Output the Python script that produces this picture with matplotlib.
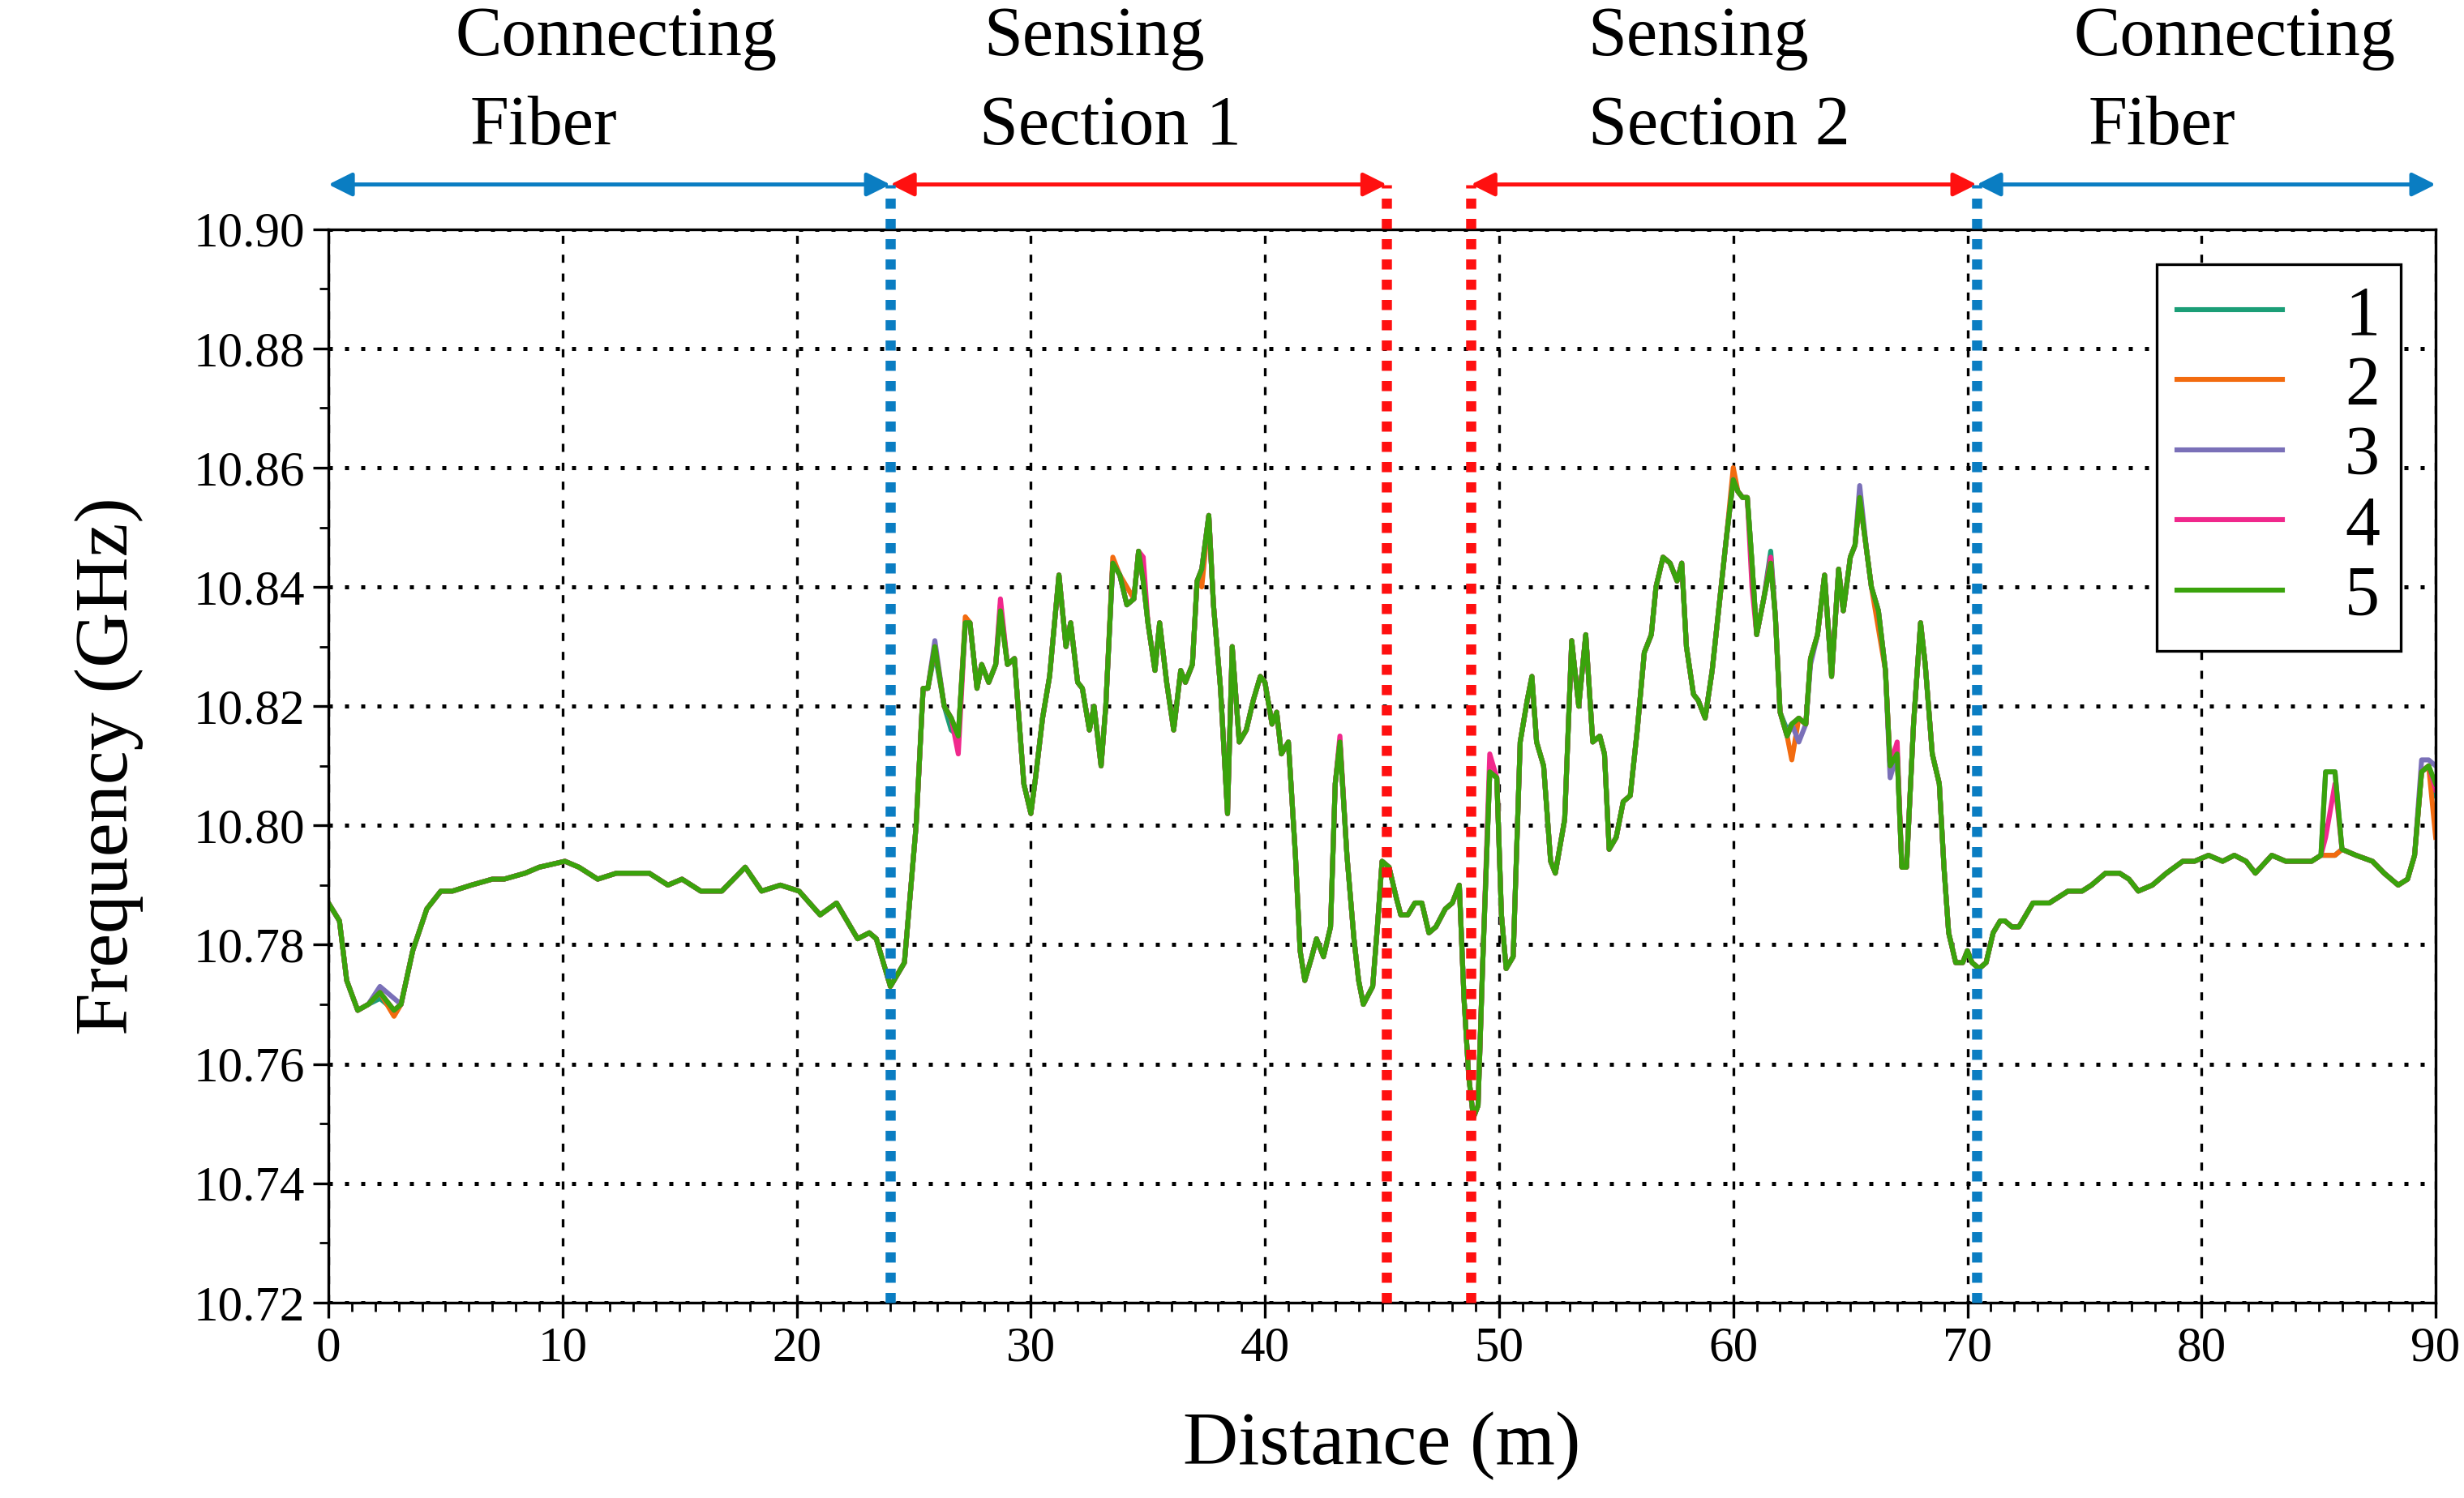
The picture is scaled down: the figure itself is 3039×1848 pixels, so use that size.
import matplotlib.pyplot as plt
import numpy as np
from matplotlib.ticker import MultipleLocator

plt.rcParams["font.family"] = ["Liberation Serif", "DejaVu Serif"]

# distance (m) and base frequency (GHz)
dist = [0, 0.47, 0.78, 1.25, 1.7, 2.2, 2.8, 3.1, 3.6, 4.2, 4.8, 5.3, 6.1, 7.0, 7.5, 8.4, 9.0, 10.1,
        10.7, 11.5, 12.3, 13.1, 13.7, 14.5, 15.1, 15.9, 16.8, 17.8, 18.5, 19.3, 20.1, 21.0, 21.7, 22.6,
        23.1, 23.4, 24.0, 24.6, 25.1, 25.4, 25.6, 25.9, 26.3, 26.6, 26.9, 27.2, 27.4, 27.7, 27.9, 28.2,
        28.5, 28.7, 29.0, 29.3, 29.7, 30.0, 30.2, 30.5, 30.8, 31.2, 31.5, 31.7, 32.0, 32.2, 32.5, 32.7,
        33.0, 33.2, 33.5, 33.8, 34.1, 34.4, 34.6, 34.8, 35.0, 35.3, 35.5, 35.8, 36.1, 36.4, 36.6, 36.9,
        37.1, 37.3, 37.6, 37.8, 38.1, 38.4, 38.6, 38.9, 39.2, 39.5, 39.8, 40.0, 40.3, 40.5, 40.7, 41.0,
        41.3, 41.5, 41.7, 42.0, 42.2, 42.5, 42.8, 43.0, 43.2, 43.5, 43.8, 44.0, 44.2, 44.6, 44.8, 45.0,
        45.3, 45.6, 45.8, 46.1, 46.4, 46.7, 47.0, 47.3, 47.7, 48.0, 48.3, 48.5, 48.7, 48.9, 49.1, 49.3,
        49.6, 49.9, 50.1, 50.3, 50.6, 50.9, 51.2, 51.4, 51.6, 51.9, 52.2, 52.4, 52.8, 53.1, 53.4, 53.7,
        54.0, 54.3, 54.5, 54.7, 55.0, 55.3, 55.6, 55.9, 56.2, 56.5, 56.7, 57.0, 57.3, 57.6, 57.8, 58.0,
        58.3, 58.5, 58.8, 59.1, 59.4, 59.7, 60.0, 60.2, 60.4, 60.6, 60.8, 61.0, 61.3, 61.6, 61.8, 62.0,
        62.3, 62.5, 62.8, 63.1, 63.3, 63.6, 63.9, 64.2, 64.5, 64.7, 65.0, 65.2, 65.4, 65.7, 65.9, 66.2,
        66.5, 66.7, 67.0, 67.2, 67.4, 67.7, 68.0, 68.2, 68.5, 68.8, 69.0, 69.2, 69.5, 69.8, 70.0, 70.2,
        70.5, 70.8, 71.1, 71.4, 71.6, 71.9, 72.2, 72.5, 72.8, 73.2, 73.5, 73.9, 74.3, 74.9, 75.3, 75.9,
        76.5, 76.9, 77.3, 77.9, 78.5, 79.2, 79.7, 80.3, 80.9, 81.4, 81.9, 82.3, 83.0, 83.6, 84.1, 84.7,
        85.1, 85.3, 85.7, 86.0, 86.6, 87.3, 87.8, 88.4, 88.8, 89.1, 89.4, 89.7, 90.0]
freq = [10.787, 10.784, 10.774, 10.769, 10.770, 10.772, 10.769, 10.770, 10.779, 10.786, 10.789, 10.789,
        10.790, 10.791, 10.791, 10.792, 10.793, 10.794, 10.793, 10.791, 10.792, 10.792, 10.792, 10.790,
        10.791, 10.789, 10.789, 10.793, 10.789, 10.790, 10.789, 10.785, 10.787, 10.781, 10.782, 10.781,
        10.773, 10.777, 10.800, 10.823, 10.823, 10.830, 10.820, 10.818, 10.815, 10.834, 10.834, 10.823,
        10.827, 10.824, 10.827, 10.836, 10.827, 10.828, 10.807, 10.802, 10.808, 10.818, 10.825, 10.842,
        10.830, 10.834, 10.824, 10.823, 10.816, 10.820, 10.810, 10.820, 10.844, 10.842, 10.837, 10.838,
        10.846, 10.841, 10.834, 10.826, 10.834, 10.824, 10.816, 10.826, 10.824, 10.827, 10.841, 10.843,
        10.852, 10.837, 10.823, 10.802, 10.830, 10.814, 10.816, 10.821, 10.825, 10.824, 10.817, 10.819,
        10.812, 10.814, 10.795, 10.779, 10.774, 10.778, 10.781, 10.778, 10.783, 10.807, 10.814, 10.795,
        10.781, 10.774, 10.770, 10.773, 10.783, 10.794, 10.793, 10.788, 10.785, 10.785, 10.787, 10.787,
        10.782, 10.783, 10.786, 10.787, 10.790, 10.771, 10.758, 10.751, 10.753, 10.777, 10.809, 10.808,
        10.785, 10.776, 10.778, 10.814, 10.821, 10.825, 10.814, 10.810, 10.794, 10.792, 10.801, 10.831,
        10.820, 10.832, 10.814, 10.815, 10.812, 10.796, 10.798, 10.804, 10.805, 10.816, 10.829, 10.832,
        10.840, 10.845, 10.844, 10.841, 10.844, 10.830, 10.822, 10.821, 10.818, 10.826, 10.837, 10.848,
        10.858, 10.856, 10.855, 10.855, 10.844, 10.832, 10.838, 10.844, 10.835, 10.819, 10.815, 10.817,
        10.818, 10.817, 10.828, 10.832, 10.842, 10.825, 10.843, 10.836, 10.845, 10.847, 10.855, 10.846,
        10.840, 10.836, 10.826, 10.810, 10.812, 10.793, 10.793, 10.817, 10.834, 10.827, 10.812, 10.807,
        10.793, 10.782, 10.777, 10.777, 10.779, 10.777, 10.776, 10.777, 10.782, 10.784, 10.784, 10.783,
        10.783, 10.785, 10.787, 10.787, 10.787, 10.788, 10.789, 10.789, 10.790, 10.792, 10.792, 10.791,
        10.789, 10.790, 10.792, 10.794, 10.794, 10.795, 10.794, 10.795, 10.794, 10.792, 10.795, 10.794,
        10.794, 10.794, 10.795, 10.809, 10.809, 10.796, 10.795, 10.794, 10.792, 10.790, 10.791, 10.795,
        10.809, 10.810, 10.807]

# per-measurement deviations from the base trace: {distance: frequency}
dev1 = {2.2: 10.771, 25.9: 10.829, 26.6: 10.816, 62.3: 10.816, 61.6: 10.846, 85.3: 10.795,
        85.7: 10.795, 86.0: 10.796, 89.4: 10.809, 90.0: 10.805}
dev2 = {2.8: 10.768, 27.2: 10.835, 33.5: 10.845, 34.1: 10.840, 37.3: 10.840, 60.0: 10.860,
        62.5: 10.811, 66.2: 10.833, 85.3: 10.795, 85.7: 10.795, 86.0: 10.796, 90.0: 10.798}
dev3 = {2.2: 10.773, 2.8: 10.771, 25.9: 10.831, 28.7: 10.837, 62.8: 10.814, 63.3: 10.827,
        65.4: 10.857, 66.7: 10.808, 89.4: 10.811, 89.7: 10.811, 90.0: 10.810}
dev4 = {26.9: 10.812, 28.7: 10.838, 34.8: 10.845, 43.2: 10.815, 49.6: 10.812, 60.8: 10.840,
        61.6: 10.845, 67.0: 10.814, 85.3: 10.798, 85.7: 10.807, 86.0: 10.796, 90.0: 10.806}
dev5 = {}

colors = ["#1b9e77", "#f26b0f", "#7a70b8", "#f0288c", "#3aa30c"]
labels = ["1", "2", "3", "4", "5"]
devs = [dev1, dev2, dev3, dev4, dev5]

fig = plt.figure(figsize=(15.195, 9.24), dpi=200)
ax = fig.add_axes([0.1333, 0.1305, 0.8552, 0.7165])

for dev, c, lab in zip(devs, colors, labels):
    y = np.array(freq)
    for k, v in dev.items():
        y[dist.index(k)] = v
    ax.plot(dist, y, color=c, lw=2.2, label=lab)

ax.set_xlim(0, 90)
ax.set_ylim(10.72, 10.90)
ax.xaxis.set_major_locator(MultipleLocator(10))
ax.xaxis.set_minor_locator(MultipleLocator(1))
ax.yaxis.set_major_locator(MultipleLocator(0.02))
ax.yaxis.set_minor_locator(MultipleLocator(0.01))
ax.yaxis.set_major_formatter(plt.FormatStrFormatter("%.2f"))
ax.tick_params(labelsize=22, direction="out", length=7, width=1.2)
ax.tick_params(which="minor", length=4, width=1.0)
ax.grid(axis="x", which="major", color="black", ls=(0, (3, 4)), lw=1.2)
ax.grid(axis="y", which="major", color="black", ls=(0, (1, 3)), lw=1.8)
for s in ax.spines.values():
    s.set_linewidth(1.2)
ax.set_xlabel("Distance (m)", fontsize=34, labelpad=18)
ax.set_ylabel("Frequency (GHz)", fontsize=34, labelpad=22)

# section boundaries
ytop = 10.9075
for xb, col in [(24, "#0a7dc2"), (70.4, "#0a7dc2"), (45.2, "#ff1010"), (48.8, "#ff1010")]:
    ax.plot([xb, xb], [10.72, ytop], color=col, ls=(0, (1, 1)), lw=4.5, clip_on=False, zorder=5)

for x0, x1, col in [(0, 24, "#0a7dc2"), (24, 45.2, "#ff1010"), (48.8, 70.4, "#ff1010"), (70.4, 90, "#0a7dc2")]:
    ax.annotate("", xy=(x0, ytop), xytext=(x1, ytop), annotation_clip=False,
                arrowprops=dict(arrowstyle="<|-|>", color=col, lw=1.8, mutation_scale=22,
                                shrinkA=0, shrinkB=0))

for txt, x, y in [("Connecting", 12.3, 10.932), ("Fiber", 9.2, 10.917),
                  ("Sensing", 32.7, 10.932), ("Section 1", 33.4, 10.917),
                  ("Sensing", 58.5, 10.932), ("Section 2", 59.4, 10.917),
                  ("Connecting", 81.4, 10.932), ("Fiber", 78.3, 10.917)]:
    ax.text(x, y, txt, fontsize=31, ha="center", va="center", clip_on=False)

leg = ax.legend(loc="upper right", fontsize=31, fancybox=False, edgecolor="black",
                framealpha=1, handlelength=1.5, handletextpad=0.9, borderaxespad=0.5,
                labelspacing=0.08, borderpad=0.3)
leg.get_frame().set_linewidth(1.2)

fig.savefig("out.png", dpi=200)
